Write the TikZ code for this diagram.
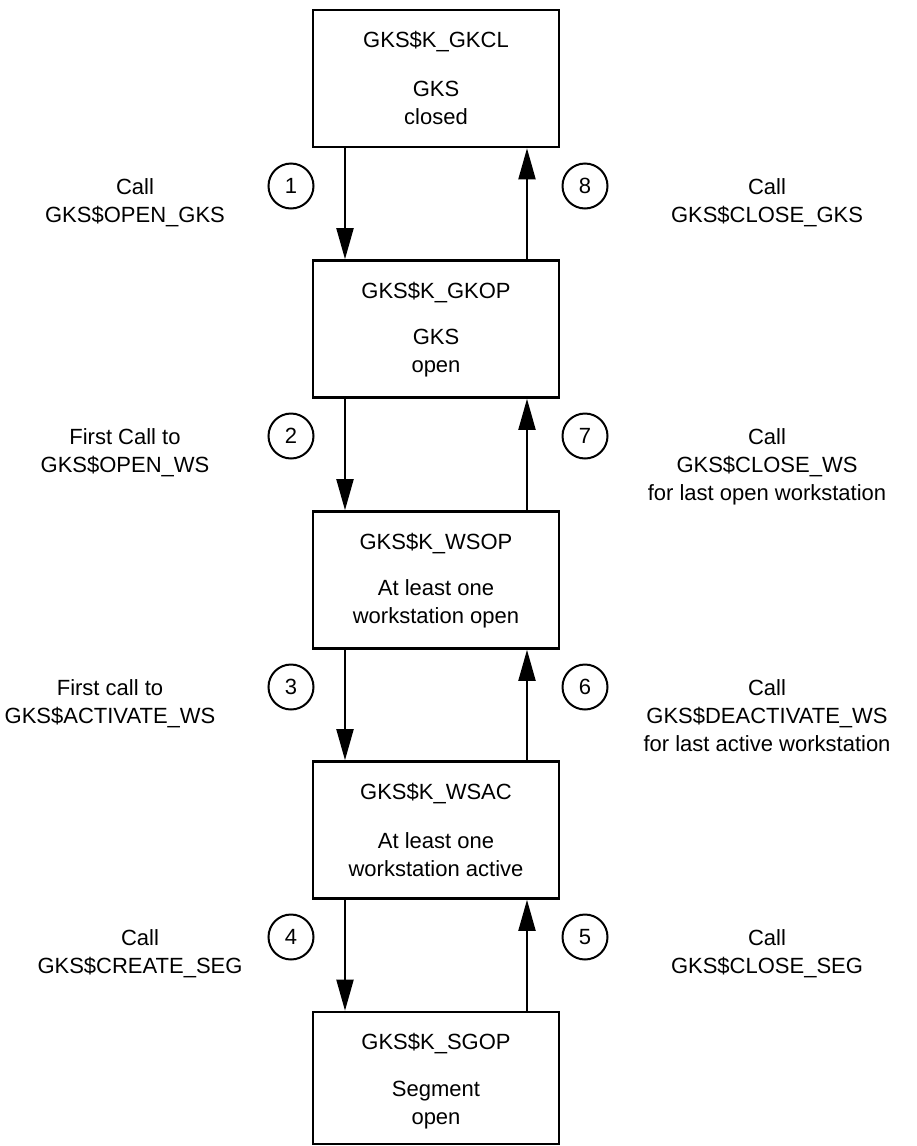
\documentclass[tikz,border=0pt]{standalone}
\usepackage{fontspec}
\setmainfont{Liberation Sans}
\usetikzlibrary{positioning, arrows.meta}
\tikzset{>={Triangle[length=15.5pt, width=8.5pt]}}
\tikzset{
  state/.style={draw, line width=1.3pt, minimum width=123pt, minimum height=68.5pt, inner sep=0pt},
  boxtext/.style={align=center, inner sep=0pt, font=\fontsize{11}{14}\selectfont},
  callnum/.style={draw, circle, line width=1pt, minimum size=22.5pt, inner sep=0pt, font=\fontsize{11}{13}\selectfont},
  calltext/.style={align=center, anchor=north, inner sep=0pt, font=\fontsize{11}{14}\selectfont},
  flow/.style={->, line width=1pt}
}

\begin{document}
\begin{tikzpicture}[x=0.5pt, y=-0.5pt]
    \useasboundingbox (0,0) rectangle (916,1146);

    % states
    \node[state] (s1) at (436,78.5) {};
    \node[state] (s2) at (436,329) {};
    \node[state] (s3) at (436,580) {};
    \node[state] (s4) at (436,830) {};
    \node[state, minimum height=66pt] (s5) at (436,1078) {};

    \node[boxtext] (t1) at ([yshift=-16.5pt]s1.north) {GKS\$K\_GKCL};
    \node[boxtext] (b1) at ([yshift=-47pt]s1.north) {GKS\\closed};
    \node[boxtext] (t2) at ([yshift=-16.5pt]s2.north) {GKS\$K\_GKOP};
    \node[boxtext] (b2) at ([yshift=-47pt]s2.north) {GKS\\open};
    \node[boxtext] (t3) at ([yshift=-16.5pt]s3.north) {GKS\$K\_WSOP};
    \node[boxtext] (b3) at ([yshift=-47pt]s3.north) {At least one\\workstation open};
    \node[boxtext] (t4) at ([yshift=-16.5pt]s4.north) {GKS\$K\_WSAC};
    \node[boxtext] (b4) at ([yshift=-47pt]s4.north) {At least one\\workstation active};
    \node[boxtext] (t5) at ([yshift=-16.5pt]s5.north) {GKS\$K\_SGOP};
    \node[boxtext] (b5) at ([yshift=-47pt]s5.north) {Segment\\open};

    % transitions down / up
    \foreach \a/\b in {s1/s2, s2/s3, s3/s4, s4/s5} {
        \draw[flow] ([xshift=-45.5pt]\a.south) -- ([xshift=-45.5pt]\b.north);
        \draw[flow] ([xshift=45.5pt]\b.north) -- ([xshift=45.5pt]\a.south);
    }

    % step numbers
    \node[callnum] (n1) at (291,186) {1};
    \node[callnum] (n2) at (291,436) {2};
    \node[callnum] (n3) at (291,687) {3};
    \node[callnum] (n4) at (291,937) {4};
    \node[callnum] (n5) at (585,937) {5};
    \node[callnum] (n6) at (585,687) {6};
    \node[callnum] (n7) at (585,436) {7};
    \node[callnum] (n8) at (585,186) {8};

    % routine calls
    \node[calltext] (c1) at (135,178) {Call\\GKS\$OPEN\_GKS};
    \node[calltext] (c2) at (125,428) {First Call to\\GKS\$OPEN\_WS};
    \node[calltext] (c3) at (110,679) {First call to\\GKS\$ACTIVATE\_WS};
    \node[calltext] (c4) at (140,929) {Call\\GKS\$CREATE\_SEG};
    \node[calltext] (c5) at (767,929) {Call\\GKS\$CLOSE\_SEG};
    \node[calltext] (c6) at (767,679) {Call\\GKS\$DEACTIVATE\_WS\\for last active workstation};
    \node[calltext] (c7) at (767,428) {Call\\GKS\$CLOSE\_WS\\for last open workstation};
    \node[calltext] (c8) at (767,178) {Call\\GKS\$CLOSE\_GKS};
\end{tikzpicture}
\end{document}
